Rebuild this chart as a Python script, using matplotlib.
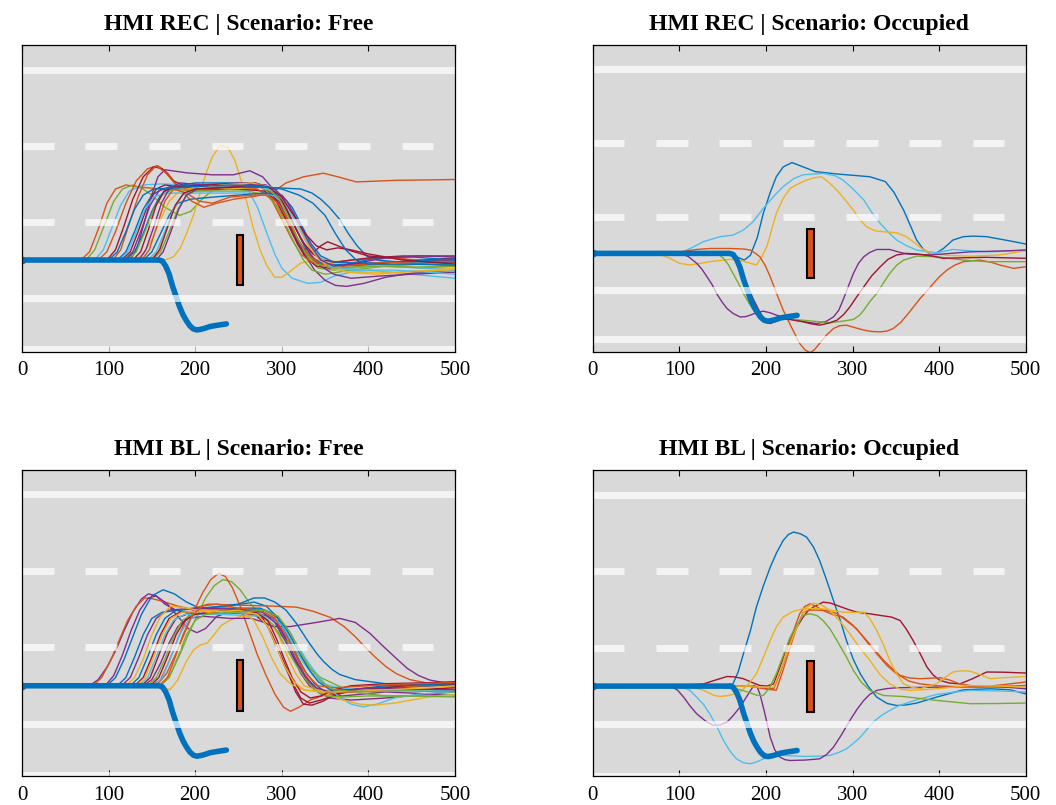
import numpy as np
import matplotlib.pyplot as plt
from matplotlib.patches import Rectangle

plt.rcParams['font.family'] = ['Liberation Serif', 'DejaVu Serif']

# MATLAB default line colours
PALETTE = {'b': '#0072BD', 'o': '#D95319', 'y': '#EDB120', 'p': '#7E2F8E',
           'g': '#77AC30', 'c': '#4DBEEE', 'r': '#A2142F'}

# road geometry (lateral offset in m, longitudinal in m)
LANE_SOLID = [9.375, -1.875, -4.375]
LANE_DASHED = [5.625, 1.875]
DASH_LEN = 36.5
DASH_PERIOD = 73.1
OBSTACLE_X = 248
OBSTACLE_W = 7.5
OBSTACLE_Y = -1.25
OBSTACLE_H = 2.5

# automated (reference) manoeuvre, same in every panel
EGO_X = [0, 158, 162, 166, 170, 174, 178, 182, 186, 190, 194, 198, 202, 206, 210, 217, 225, 236]
EGO_Y = [0, 0, -0.05, -0.3, -0.7, -1.3, -1.8, -2.3, -2.7, -3.0, -3.25, -3.4, -3.45, -3.42, -3.38, -3.28, -3.22, -3.15]

# ---- HMI REC | Free
TL_COLORS = ['o', 'g', 'c', 'y', 'o', 'b', 'p', 'r', 'p', 'r', 'o', 'b', 'y',
             'g', 'c', 'p', 'r', 'b', 'o', 'y', 'g', 'c', 'p', 'r', 'b']
TL_TRACKS = [
    [(0, 0), (68, 0), (78, 0.4), (88, 1.5), (98, 2.8), (108, 3.5), (120, 3.7), (135, 3.6), (160, 3.5), (200, 3.4), (240, 3.5), (270, 3.5), (285, 3.2), (300, 2.3), (315, 1.2), (330, 0.3), (345, -0.2), (370, -0.3), (420, -0.2), (460, -0.4), (500, -0.3)],
    [(0, 0), (74, 0), (84, 0.5), (95, 1.7), (106, 2.9), (116, 3.5), (128, 3.7), (140, 3.5), (150, 3.2), (165, 2.6), (182, 2.2), (195, 2.4), (208, 3.0), (222, 3.5), (240, 3.6), (275, 3.6), (290, 3.2), (305, 2.2), (318, 1.0), (330, 0.1), (342, -0.4), (360, -0.5), (400, -0.3), (450, -0.2), (500, -0.1)],
    [(0, 0), (84, 0), (94, 0.5), (104, 1.6), (114, 2.7), (124, 3.4), (140, 3.7), (160, 3.75), (200, 3.7), (240, 3.6), (262, 3.4), (272, 2.6), (283, 1.3), (292, 0.3), (300, -0.4), (312, -0.9), (330, -1.15), (345, -1.1), (360, -0.8), (380, -0.6), (400, -0.5), (450, -0.7), (500, -0.9)],
    [(0, 0), (165, 0), (175, 0.16), (183, 0.6), (190, 1.3), (198, 2.2), (205, 3.2), (212, 4.2), (220, 5.1), (229, 5.66), (238, 5.55), (246, 4.9), (254, 3.8), (260, 2.8), (267, 1.6), (275, 0.5), (283, -0.3), (292, -0.85), (300, -0.85), (310, -0.55), (322, -0.15), (340, 0.0), (370, -0.1), (420, -0.3), (470, -0.4), (500, -0.4)],
    [(0, 0), (88, 0), (98, 0.4), (108, 1.4), (120, 2.8), (132, 3.9), (145, 4.5), (157, 4.65), (168, 4.3), (182, 3.5), (196, 2.9), (210, 2.6), (225, 2.8), (245, 3.0), (270, 3.15), (288, 3.3), (305, 3.8), (325, 4.1), (348, 4.28), (365, 4.1), (386, 3.85), (433, 3.93), (470, 3.95), (500, 3.97)],
    [(0, 0), (110, 0), (120, 0.4), (130, 1.4), (140, 2.5), (150, 3.2), (162, 3.5), (200, 3.6), (260, 3.6), (300, 3.55), (322, 3.5), (335, 3.3), (345, 3.0), (355, 2.6), (367, 2.0), (377, 1.3), (387, 0.7), (398, 0.2), (410, 0.0), (436, -0.1), (470, -0.1), (500, -0.15)],
    [(0, 0), (118, 0), (128, 0.4), (138, 1.5), (148, 2.7), (158, 3.4), (170, 3.6), (210, 3.7), (260, 3.8), (280, 3.6), (292, 3.1), (303, 2.2), (314, 1.2), (326, 0.3), (338, -0.5), (350, -1.0), (362, -1.25), (375, -1.3), (395, -1.15), (420, -0.85), (450, -0.65), (500, -0.5)],
    [(0, 0), (115, 0), (125, 0.4), (135, 1.5), (145, 2.7), (155, 3.5), (165, 3.7), (200, 3.5), (250, 3.5), (280, 3.4), (292, 3.0), (303, 2.2), (314, 1.3), (325, 0.6), (336, 0.35), (345, 0.7), (353, 0.9), (365, 0.7), (380, 0.45), (400, 0.2), (450, 0.0), (500, -0.1)],
    [(0, 0), (125, 0), (133, 0.6), (141, 1.8), (149, 3.1), (157, 4.1), (165, 4.45), (190, 4.3), (220, 4.2), (244, 4.2), (263, 4.4), (278, 4.1), (290, 3.5), (300, 2.6), (310, 1.7), (320, 0.8), (330, 0.2), (342, -0.2), (360, -0.3), (400, -0.2), (450, -0.05), (500, 0.0)],
    [(0, 0), (98, 0), (108, 0.5), (118, 1.7), (128, 3.0), (140, 4.1), (152, 4.6), (162, 4.5), (175, 3.9), (190, 3.6), (230, 3.6), (270, 3.7), (287, 3.4), (298, 2.7), (308, 1.7), (318, 0.8), (328, 0.1), (340, -0.3), (355, -0.4), (380, -0.2), (430, -0.1), (500, 0.1)],
    [(0, 0), (105, 0), (114, 0.5), (124, 1.8), (134, 3.1), (145, 4.2), (155, 4.65), (166, 4.3), (178, 3.7), (192, 3.5), (230, 3.6), (272, 3.5), (288, 3.0), (300, 2.0), (312, 1.0), (322, 0.3), (334, -0.1), (350, -0.2), (380, 0.0), (420, 0.1), (460, 0.0), (500, -0.1)],
    [(0, 0), (120, 0), (130, 0.4), (140, 1.3), (150, 2.4), (160, 3.2), (172, 3.6), (200, 3.8), (240, 3.8), (275, 3.7), (292, 3.4), (305, 2.6), (316, 1.6), (326, 0.7), (336, 0.1), (350, -0.25), (375, -0.2), (410, 0.1), (450, 0.15), (500, 0.0)],
    [(0, 0), (130, 0), (140, 0.3), (150, 1.0), (160, 2.0), (170, 2.9), (182, 3.4), (200, 3.6), (240, 3.5), (275, 3.6), (295, 3.3), (310, 2.4), (322, 1.4), (332, 0.6), (344, 0.0), (360, -0.4), (390, -0.6), (430, -0.6), (470, -0.55), (500, -0.5)],
    [(0, 0), (122, 0), (132, 0.4), (142, 1.4), (152, 2.5), (162, 3.2), (175, 3.5), (210, 3.4), (260, 3.4), (283, 3.2), (295, 2.6), (305, 1.7), (315, 0.8), (325, 0.0), (335, -0.5), (350, -0.7), (380, -0.5), (420, -0.3), (460, -0.2), (500, -0.2)],
    [(0, 0), (112, 0), (122, 0.4), (132, 1.4), (142, 2.5), (152, 3.1), (165, 3.3), (200, 3.3), (260, 3.3), (290, 3.2), (305, 2.7), (316, 1.9), (327, 1.0), (338, 0.3), (350, -0.2), (375, -0.4), (420, -0.3), (460, -0.4), (500, -0.5)],
    [(0, 0), (135, 0), (143, 0.5), (152, 1.6), (161, 2.8), (170, 3.5), (182, 3.8), (210, 3.7), (250, 3.8), (282, 3.7), (298, 3.1), (310, 2.1), (322, 1.1), (333, 0.3), (345, -0.3), (360, -0.7), (380, -0.9), (410, -0.8), (450, -0.7), (500, -0.6)],
    [(0, 0), (128, 0), (137, 0.4), (146, 1.5), (155, 2.7), (164, 3.4), (176, 3.6), (220, 3.7), (270, 3.8), (290, 3.5), (302, 2.8), (313, 1.8), (324, 0.9), (336, 0.3), (348, 0.0), (362, -0.1), (400, 0.1), (440, 0.2), (500, 0.2)],
    [(0, 0), (140, 0), (150, 0.4), (160, 1.3), (170, 2.2), (180, 2.8), (195, 3.0), (220, 3.1), (250, 3.2), (280, 3.3), (300, 3.2), (312, 2.6), (323, 1.7), (334, 0.8), (345, 0.2), (360, -0.1), (400, -0.15), (450, -0.05), (500, 0.05)],
    [(0, 0), (138, 0), (147, 0.5), (156, 1.7), (165, 2.9), (175, 3.5), (190, 3.3), (205, 2.9), (220, 2.8), (240, 3.1), (265, 3.2), (283, 3.2), (296, 2.8), (308, 1.9), (320, 0.9), (332, 0.2), (345, -0.2), (370, -0.3), (420, -0.1), (470, -0.2), (500, -0.3)],
    [(0, 0), (148, 0), (157, 0.4), (166, 1.4), (175, 2.5), (185, 3.2), (198, 3.5), (230, 3.7), (265, 3.8), (288, 3.6), (302, 3.0), (314, 2.1), (326, 1.1), (338, 0.3), (352, -0.3), (375, -0.6), (410, -0.7), (450, -0.55), (500, -0.45)],
    [(0, 0), (150, 0), (160, 0.4), (170, 1.4), (180, 2.5), (190, 3.2), (205, 3.5), (240, 3.6), (280, 3.6), (296, 3.1), (308, 2.1), (318, 1.1), (328, 0.3), (340, -0.2), (360, -0.4), (400, -0.3), (450, -0.35), (500, -0.3)],
    [(0, 0), (145, 0), (155, 0.4), (165, 1.4), (175, 2.5), (185, 3.2), (198, 3.5), (230, 3.6), (275, 3.6), (292, 3.4), (305, 2.8), (318, 1.8), (330, 0.9), (342, 0.2), (356, -0.3), (380, -0.5), (430, -0.5), (470, -0.6), (500, -0.7)],
    [(0, 0), (155, 0), (163, 0.4), (172, 1.4), (181, 2.5), (190, 3.2), (202, 3.5), (240, 3.6), (275, 3.7), (292, 3.5), (306, 2.9), (320, 1.8), (332, 0.8), (345, 0.0), (360, -0.3), (380, -0.2), (420, 0.1), (460, 0.2), (500, 0.15)],
    [(0, 0), (150, 0), (159, 0.5), (168, 1.6), (177, 2.7), (187, 3.3), (200, 3.5), (250, 3.6), (285, 3.6), (300, 3.1), (314, 2.2), (327, 1.3), (340, 0.7), (352, 0.5), (365, 0.6), (380, 0.5), (400, 0.3), (440, 0.0), (500, -0.2)],
    [(0, 0), (100, 0), (110, 0.4), (120, 1.4), (130, 2.5), (140, 3.2), (152, 3.5), (190, 3.6), (240, 3.7), (285, 3.6), (300, 3.5), (320, 3.2), (336, 2.8), (350, 2.2), (362, 1.3), (374, 0.5), (386, 0.0), (400, -0.2), (440, -0.2), (500, -0.25)],
]

# ---- HMI REC | Occupied
TR_COLORS = ['b', 'c', 'y', 'o', 'p', 'g', 'r']
TR_TRACKS = [
    [(0, 0), (155, 0), (165, -0.15), (175, -0.34), (182, -0.1), (190, 0.8), (197, 2.04), (205, 3.1), (212, 3.9), (220, 4.4), (230, 4.62), (243, 4.4), (257, 4.16), (282, 4.04), (320, 3.9), (338, 3.65), (348, 3.1), (359, 2.2), (367, 1.4), (374, 0.68), (382, 0.2), (390, -0.03), (398, 0.05), (405, 0.25), (416, 0.68), (428, 0.85), (440, 0.88), (455, 0.85), (480, 0.65), (500, 0.48)],
    [(0, 0), (100, 0), (115, 0.3), (128, 0.6), (147, 0.85), (162, 0.93), (174, 1.19), (185, 1.6), (197, 2.29), (210, 2.95), (220, 3.4), (232, 3.8), (243, 4.0), (266, 4.07), (280, 3.95), (289, 3.73), (300, 3.3), (313, 2.72), (322, 2.1), (332, 1.53), (342, 1.05), (351, 0.68), (362, 0.4), (374, 0.17), (397, 0.03), (416, 0.2), (430, 0.15), (455, 0.08), (480, 0.12), (500, 0.17)],
    [(0, 0), (75, 0), (89, -0.25), (100, -0.5), (112, -0.59), (125, -0.5), (135, -0.42), (159, -0.3), (172, -0.38), (182, -0.5), (189, -0.59), (195, -0.2), (201, 0.34), (206, 1.1), (212, 2.04), (220, 2.8), (228, 3.31), (238, 3.55), (247, 3.73), (256, 3.85), (264, 3.9), (273, 3.6), (282, 3.22), (292, 2.7), (301, 2.2), (308, 1.75), (316, 1.36), (326, 1.15), (336, 1.1), (351, 1.05), (362, 0.85), (370, 0.6), (380, 0.25), (390, 0.0), (410, -0.1), (436, -0.14), (470, -0.08), (500, 0.14)],
    [(0, 0), (80, 0), (101, 0.08), (120, 0.2), (135, 0.25), (159, 0.25), (175, 0.22), (182, 0.17), (188, 0.0), (193, -0.17), (199, -0.6), (205, -1.19), (212, -2.0), (220, -2.89), (230, -3.8), (239, -4.58), (245, -4.9), (251, -5.05), (256, -4.9), (262, -4.58), (270, -4.15), (278, -3.82), (285, -3.68), (293, -3.65), (303, -3.78), (313, -3.9), (322, -3.97), (332, -3.99), (340, -3.95), (347, -3.82), (356, -3.5), (366, -2.97), (378, -2.3), (390, -1.7), (400, -1.2), (409, -0.85), (418, -0.6), (428, -0.42), (447, -0.34), (460, -0.45), (470, -0.59), (486, -0.76), (500, -0.68)],
    [(0, 0), (100, 0), (110, -0.15), (120, -0.5), (126, -0.8), (132, -1.19), (138, -1.6), (143, -2.04), (149, -2.45), (155, -2.8), (162, -3.05), (170, -3.23), (176, -3.22), (182, -3.14), (190, -3.0), (197, -2.94), (205, -3.02), (212, -3.14), (224, -3.28), (235, -3.4), (248, -3.5), (259, -3.57), (270, -3.45), (278, -3.23), (284, -2.9), (289, -2.38), (295, -1.7), (301, -1.02), (307, -0.5), (313, -0.17), (320, 0.05), (328, 0.2), (343, 0.2), (355, 0.05), (363, -0.03), (390, -0.08), (436, 0.08), (470, 0.12), (500, 0.17)],
    [(0, 0), (138, 0), (146, -0.08), (151, -0.25), (157, -0.6), (162, -1.02), (168, -1.5), (174, -2.04), (180, -2.5), (186, -2.89), (192, -3.2), (197, -3.4), (205, -3.38), (212, -3.31), (228, -3.35), (243, -3.4), (260, -3.47), (274, -3.53), (288, -3.45), (301, -3.36), (308, -3.15), (313, -2.89), (320, -2.45), (328, -2.04), (335, -1.55), (343, -1.02), (351, -0.6), (359, -0.34), (374, -0.14), (397, -0.17), (428, -0.34), (455, -0.42), (500, -0.42)],
    [(0, 0), (155, 0), (162, -0.08), (168, -0.5), (174, -1.19), (180, -1.8), (186, -2.38), (192, -2.9), (197, -3.31), (201, -3.5), (205, -3.57), (212, -3.45), (220, -3.31), (230, -3.38), (243, -3.48), (252, -3.58), (262, -3.65), (272, -3.55), (282, -3.4), (290, -3.1), (297, -2.72), (305, -2.2), (313, -1.7), (322, -1.15), (332, -0.68), (341, -0.3), (351, -0.08), (362, 0.0), (374, -0.03), (390, -0.12), (405, -0.25), (430, -0.22), (455, -0.2), (500, -0.25)],
]

# ---- HMI BL | Free
BL_COLORS = ['p', 'o', 'b', 'p', 'g', 'o', 'y', 'o', 'p', 'b', 'r',
             'r', 'c', 'y', 'g', 'c', 'r', 'b', 'p', 'y', 'o', 'g']
BL_TRACKS = [
    [(0, 0), (78, 0), (88, 0.3), (98, 0.9), (108, 1.7), (118, 2.7), (128, 3.6), (138, 4.25), (146, 4.5), (155, 4.4), (165, 4.0), (178, 3.7), (198, 3.5), (230, 3.6), (270, 3.6), (290, 3.3), (302, 2.5), (312, 1.5), (322, 0.6), (332, 0.0), (345, -0.4), (370, -0.5), (420, -0.3), (470, -0.4), (500, -0.5)],
    [(0, 0), (82, 0), (92, 0.4), (102, 1.2), (112, 2.2), (122, 3.2), (132, 3.9), (142, 4.3), (152, 4.25), (165, 4.1), (180, 3.9), (200, 3.7), (240, 3.7), (280, 3.7), (296, 3.3), (306, 2.5), (316, 1.5), (326, 0.6), (336, 0.0), (346, -0.3), (370, -0.3), (420, 0.0), (470, 0.1), (500, 0.0)],
    [(0, 0), (98, 0), (108, 0.4), (118, 1.3), (128, 2.4), (138, 3.5), (150, 4.4), (163, 4.7), (176, 4.5), (190, 4.1), (205, 3.8), (240, 3.9), (268, 4.1), (282, 3.9), (294, 3.4), (305, 2.6), (316, 1.6), (327, 0.7), (338, 0.1), (350, -0.3), (380, -0.3), (430, -0.1), (500, 0.05)],
    [(0, 0), (96, 0), (106, 0.5), (116, 1.5), (126, 2.7), (136, 3.7), (146, 4.3), (155, 4.4), (168, 4.0), (180, 3.4), (192, 2.8), (202, 2.6), (212, 2.8), (225, 3.4), (245, 3.7), (275, 3.7), (292, 3.3), (304, 2.4), (315, 1.4), (326, 0.5), (338, -0.2), (355, -0.6), (380, -0.7), (420, -0.6), (470, -0.4), (500, -0.3)],
    [(0, 0), (150, 0), (162, 0.1), (172, 0.6), (182, 1.5), (192, 2.5), (202, 3.4), (212, 4.3), (222, 4.9), (232, 5.2), (242, 5.1), (252, 4.7), (262, 4.1), (275, 3.5), (290, 2.9), (305, 2.2), (318, 1.6), (332, 0.9), (345, 0.4), (360, 0.1), (380, -0.3), (420, -0.5), (470, -0.5), (500, -0.45)],
    [(0, 0), (145, 0), (157, 0.1), (167, 0.6), (177, 1.5), (188, 2.6), (198, 3.6), (208, 4.5), (218, 5.2), (227, 5.5), (235, 5.35), (243, 4.8), (252, 3.9), (262, 2.7), (272, 1.5), (282, 0.5), (292, -0.4), (302, -1.05), (310, -1.25), (320, -1.05), (333, -0.7), (350, -0.45), (380, -0.2), (420, -0.05), (470, 0.0), (500, 0.05)],
    [(0, 0), (155, 0), (165, -0.1), (171, -0.2), (180, 0.3), (190, 1.2), (198, 1.75), (206, 2.0), (214, 2.1), (222, 2.5), (230, 2.95), (240, 3.2), (252, 3.4), (270, 3.45), (285, 3.2), (296, 2.5), (306, 1.5), (316, 0.6), (326, 0.0), (340, -0.2), (380, -0.3), (430, -0.2), (500, -0.1)],
    [(0, 0), (150, 0), (160, 0.3), (170, 1.2), (180, 2.3), (190, 3.3), (200, 3.8), (215, 4.0), (250, 3.95), (290, 3.9), (317, 3.85), (336, 3.65), (356, 3.35), (372, 2.9), (385, 2.4), (396, 1.9), (408, 1.4), (420, 0.95), (432, 0.6), (448, 0.3), (471, 0.11), (500, 0.0)],
    [(0, 0), (140, 0), (150, 0.3), (160, 1.1), (170, 2.1), (180, 2.9), (192, 3.3), (210, 3.4), (240, 3.3), (265, 3.3), (280, 3.1), (290, 2.9), (310, 2.9), (340, 3.1), (367, 3.3), (385, 3.1), (402, 2.56), (418, 1.9), (432, 1.35), (445, 0.85), (458, 0.5), (471, 0.28), (500, 0.05)],
    [(0, 0), (125, 0), (135, 0.4), (145, 1.4), (155, 2.5), (165, 3.3), (178, 3.7), (210, 3.8), (250, 4.0), (268, 4.3), (280, 4.3), (292, 4.1), (305, 3.7), (317, 3.05), (330, 2.2), (340, 1.6), (348, 1.2), (358, 0.8), (367, 0.55), (385, 0.3), (420, 0.1), (460, 0.05), (500, 0.1)],
    [(0, 0), (130, 0), (140, 0.4), (150, 1.4), (160, 2.5), (170, 3.3), (182, 3.6), (220, 3.7), (260, 3.6), (278, 3.3), (288, 2.6), (298, 1.6), (308, 0.6), (316, -0.3), (325, -0.9), (335, -0.95), (348, -0.75), (362, -0.4), (380, -0.3), (410, -0.2), (450, -0.2), (500, -0.1)],
    [(0, 0), (138, 0), (148, 0.4), (158, 1.5), (168, 2.6), (178, 3.3), (190, 3.5), (230, 3.6), (268, 3.5), (283, 3.0), (293, 2.0), (303, 1.0), (313, 0.1), (322, -0.6), (332, -0.85), (345, -0.7), (360, -0.5), (380, -0.2), (420, -0.1), (460, 0.1), (500, 0.1)],
    [(0, 0), (135, 0), (145, 0.4), (155, 1.4), (165, 2.5), (175, 3.2), (188, 3.5), (230, 3.5), (280, 3.4), (300, 3.0), (315, 2.2), (328, 1.3), (340, 0.6), (352, 0.0), (365, -0.5), (380, -0.9), (394, -1.03), (410, -0.9), (430, -0.6), (460, -0.4), (500, -0.3)],
    [(0, 0), (132, 0), (142, 0.4), (152, 1.4), (162, 2.5), (172, 3.3), (185, 3.6), (220, 3.7), (255, 3.6), (268, 3.2), (278, 2.4), (288, 1.4), (298, 0.6), (310, 0.1), (325, -0.2), (345, -0.3), (370, -0.7), (390, -0.9), (406, -0.95), (430, -0.85), (471, -0.54), (500, -0.45)],
    [(0, 0), (145, 0), (155, 0.4), (165, 1.3), (175, 2.4), (185, 3.2), (198, 3.5), (240, 3.6), (275, 3.5), (290, 3.0), (302, 2.1), (314, 1.2), (326, 0.4), (338, -0.2), (350, -0.5), (370, -0.55), (400, -0.5), (450, -0.5), (500, -0.55)],
    [(0, 0), (152, 0), (162, 0.4), (172, 1.4), (182, 2.5), (192, 3.2), (205, 3.5), (240, 3.6), (285, 3.5), (300, 3.0), (312, 2.1), (324, 1.2), (336, 0.5), (348, 0.1), (365, -0.1), (390, -0.2), (430, -0.2), (470, -0.25), (500, -0.2)],
    [(0, 0), (148, 0), (158, 0.4), (168, 1.4), (178, 2.5), (188, 3.2), (200, 3.5), (240, 3.7), (270, 3.6), (284, 3.2), (294, 2.3), (303, 1.3), (312, 0.4), (322, -0.3), (333, -0.6), (345, -0.5), (360, -0.2), (380, 0.0), (420, 0.1), (470, 0.15), (500, 0.2)],
    [(0, 0), (110, 0), (120, 0.4), (130, 1.4), (140, 2.5), (150, 3.3), (162, 3.6), (200, 3.8), (240, 3.8), (275, 3.8), (292, 3.5), (305, 2.8), (318, 1.8), (330, 0.9), (342, 0.2), (356, -0.2), (380, -0.2), (420, 0.0), (470, 0.05), (500, 0.0)],
    [(0, 0), (115, 0), (125, 0.4), (135, 1.4), (145, 2.5), (155, 3.3), (168, 3.7), (200, 3.8), (250, 3.75), (278, 3.6), (292, 3.1), (304, 2.2), (316, 1.2), (328, 0.4), (340, -0.1), (355, -0.3), (375, -0.2), (400, -0.1), (440, -0.15), (500, -0.2)],
    [(0, 0), (120, 0), (130, 0.4), (140, 1.3), (150, 2.5), (160, 3.4), (172, 3.9), (190, 3.8), (215, 3.6), (250, 3.7), (272, 3.5), (284, 2.9), (294, 1.9), (304, 0.9), (314, 0.2), (326, -0.2), (345, -0.3), (375, -0.3), (420, -0.2), (470, -0.1), (500, 0.0)],
    [(0, 0), (158, 0), (168, 0.4), (177, 1.4), (186, 2.5), (196, 3.4), (208, 3.9), (225, 4.0), (250, 3.8), (275, 3.7), (292, 3.3), (306, 2.4), (318, 1.4), (330, 0.5), (342, 0.0), (360, -0.1), (400, 0.0), (450, 0.1), (500, 0.15)],
    [(0, 0), (160, 0), (170, 0.4), (180, 1.4), (190, 2.5), (200, 3.2), (212, 3.5), (245, 3.6), (280, 3.7), (296, 3.4), (310, 2.6), (322, 1.6), (334, 0.8), (346, 0.2), (360, -0.2), (390, -0.3), (440, -0.25), (500, -0.3)],
]

# ---- HMI BL | Occupied
BR_COLORS = ['b', 'c', 'p', 'r', 'o', 'o', 'y', 'y', 'g']
BR_TRACKS = [
    [(0, 0), (130, 0), (150, 0.05), (162, 0.11), (168, 0.7), (174, 1.58), (182, 2.7), (189, 3.87), (197, 4.9), (205, 5.82), (212, 6.5), (220, 7.13), (226, 7.42), (232, 7.54), (240, 7.45), (247, 7.29), (255, 6.8), (262, 6.15), (270, 5.2), (278, 4.19), (286, 3.2), (293, 2.23), (301, 1.3), (309, 0.6), (318, 0.0), (328, -0.54), (340, -0.85), (351, -0.95), (362, -0.92), (374, -0.83), (397, -0.54), (428, -0.18), (459, -0.13), (482, -0.18), (500, -0.38)],
    [(0, 0), (101, 0), (112, -0.2), (120, -0.54), (128, -0.9), (135, -1.35), (143, -1.95), (151, -2.66), (158, -3.15), (166, -3.56), (174, -3.75), (182, -3.8), (190, -3.7), (197, -3.56), (208, -3.45), (220, -3.39), (243, -3.44), (260, -3.43), (274, -3.39), (284, -3.25), (293, -3.07), (301, -2.8), (309, -2.5), (316, -2.15), (324, -1.76), (333, -1.45), (343, -1.19), (354, -0.95), (366, -0.78), (380, -0.6), (397, -0.41), (416, -0.3), (436, -0.21), (474, -0.24), (500, -0.29)],
    [(0, 0), (90, 0), (98, -0.2), (105, -0.54), (112, -0.95), (120, -1.35), (130, -1.7), (139, -1.92), (147, -1.9), (155, -1.76), (162, -1.45), (170, -1.03), (178, -0.5), (186, 0.03), (190, -0.05), (193, -0.38), (198, -1.2), (205, -2.5), (210, -3.1), (216, -3.47), (222, -3.6), (228, -3.64), (245, -3.62), (262, -3.56), (270, -3.35), (278, -2.99), (287, -2.4), (297, -1.68), (305, -1.15), (313, -0.7), (320, -0.4), (328, -0.21), (340, -0.12), (351, -0.08), (397, -0.05), (455, -0.02), (480, -0.06), (500, -0.13)],
    [(0, 0), (89, 0), (110, 0.05), (128, 0.11), (142, 0.3), (155, 0.47), (164, 0.45), (174, 0.36), (184, 0.18), (193, 0.03), (201, 0.0), (209, 0.11), (216, 0.9), (224, 1.91), (233, 2.7), (243, 3.38), (249, 3.7), (255, 3.87), (266, 4.11), (274, 4.07), (282, 3.95), (295, 3.75), (305, 3.62), (318, 3.55), (332, 3.46), (345, 3.38), (355, 3.21), (362, 2.8), (370, 2.23), (378, 1.6), (386, 0.93), (393, 0.55), (401, 0.28), (412, 0.15), (424, 0.11), (438, 0.35), (455, 0.69), (475, 0.68), (500, 0.64)],
    [(0, 0), (180, 0), (195, -0.1), (209, -0.13), (216, 0.6), (224, 1.58), (231, 2.6), (239, 3.54), (245, 3.9), (251, 4.03), (258, 3.9), (266, 3.7), (277, 3.5), (289, 3.38), (300, 3.0), (313, 2.4), (325, 1.8), (336, 1.26), (346, 0.85), (355, 0.52), (366, 0.4), (378, 0.36), (401, 0.41), (412, 0.3), (424, 0.11), (440, 0.0), (455, -0.02), (480, 0.1), (500, 0.2)],
    [(0, 0), (185, 0), (200, -0.15), (212, -0.2), (220, 0.8), (228, 1.91), (235, 2.8), (243, 3.6), (251, 3.72), (259, 3.72), (270, 3.7), (282, 3.55), (293, 3.2), (305, 2.8), (316, 2.2), (328, 1.58), (340, 1.0), (351, 0.6), (365, 0.25), (378, 0.11), (397, 0.02), (416, -0.02), (450, -0.05), (500, 0.03)],
    [(0, 0), (110, 0), (128, -0.21), (140, -0.45), (147, -0.51), (158, -0.45), (170, -0.29), (180, 0.1), (189, 0.6), (197, 1.4), (205, 2.23), (212, 2.9), (220, 3.38), (231, 3.65), (243, 3.78), (255, 3.8), (266, 3.78), (278, 3.7), (289, 3.62), (300, 3.6), (313, 3.62), (320, 3.3), (328, 2.72), (336, 2.0), (343, 1.26), (351, 0.6), (359, 0.11), (368, -0.05), (378, -0.13), (388, 0.0), (397, 0.11), (406, 0.4), (416, 0.69), (426, 0.75), (436, 0.73), (448, 0.55), (459, 0.36), (474, 0.41), (500, 0.47)],
    [(0, 0), (180, 0), (189, -0.05), (200, -0.05), (209, -0.05), (216, 0.7), (224, 1.58), (231, 2.4), (239, 3.21), (247, 3.85), (255, 4.06), (265, 3.95), (274, 3.7), (285, 3.2), (297, 2.56), (308, 1.9), (320, 1.26), (332, 0.55), (343, 0.11), (355, -0.15), (366, -0.21), (380, -0.18), (397, -0.13), (436, 0.03), (470, 0.0), (500, -0.05)],
    [(0, 0), (140, 0), (166, -0.13), (180, -0.3), (190, -0.45), (197, -0.46), (204, -0.1), (212, 0.6), (220, 1.5), (228, 2.4), (236, 3.0), (243, 3.46), (251, 3.54), (259, 3.45), (266, 3.21), (274, 2.8), (282, 2.23), (292, 1.5), (301, 0.77), (310, 0.2), (320, -0.21), (336, -0.46), (359, -0.51), (397, -0.7), (436, -0.86), (470, -0.85), (500, -0.83)],
]

TITLES = ['HMI REC | Scenario: Free', 'HMI REC | Scenario: Occupied',
          'HMI BL | Scenario: Free', 'HMI BL | Scenario: Occupied']
YLIMS = [(-4.52, 10.6), (-5.0, 10.6), (-4.42, 10.56), (-4.4, 10.57)]
X_TICKS = [0, 100, 200, 300, 400, 500]

fig = plt.figure(figsize=(10.56, 8.05), dpi=100)
positions = [[0.0208, 0.5631, 0.4100, 0.3810],
             [0.5613, 0.5631, 0.4100, 0.3810],
             [0.0208, 0.0360, 0.4100, 0.3800],
             [0.5613, 0.0360, 0.4100, 0.3800]]
panels = [(TL_TRACKS, TL_COLORS), (TR_TRACKS, TR_COLORS),
          (BL_TRACKS, BL_COLORS), (BR_TRACKS, BR_COLORS)]

dash_starts = np.arange(0, 500, DASH_PERIOD)

for pos, (tracks, cols), title, ylim in zip(positions, panels, TITLES, YLIMS):
    ax = fig.add_axes(pos)
    ax.set_facecolor('#d9d9d9')

    # driver trajectories
    for trk, c in zip(tracks, cols):
        xs = [p[0] for p in trk]
        ys = [p[1] for p in trk]
        ax.plot(xs, ys, color=PALETTE[c], lw=1.0, zorder=3)

    # automated reference manoeuvre
    ax.plot(EGO_X, EGO_Y, color=PALETTE['b'], lw=4.0, zorder=4,
            solid_capstyle='round', marker='o', markevery=[0], ms=4.5)

    # obstacle
    ax.add_patch(Rectangle((OBSTACLE_X, OBSTACLE_Y), OBSTACLE_W, OBSTACLE_H,
                           facecolor=PALETTE['o'], edgecolor='black', lw=1.5, zorder=5))

    # lane markings drawn on top, semi-transparent
    for yl in LANE_SOLID:
        ax.axhline(yl, color='white', alpha=0.7, lw=5, zorder=6, solid_capstyle='butt')
    for yl in LANE_DASHED:
        ax.hlines([yl] * len(dash_starts), dash_starts, dash_starts + DASH_LEN,
                  color='white', alpha=0.7, lw=5, zorder=6)

    ax.set_xlim(0, 500)
    ax.set_ylim(*ylim)
    ax.set_xticks(X_TICKS)
    ax.set_yticks([])
    ax.tick_params(axis='x', direction='in', top=True, length=4, width=0.8,
                   labelsize=15, pad=7)
    for sp in ax.spines.values():
        sp.set_linewidth(0.9)
        sp.set_zorder(7)
    ax.set_title(title, fontsize=17, fontweight='bold', pad=11)

fig.savefig('out.png', dpi=100)
